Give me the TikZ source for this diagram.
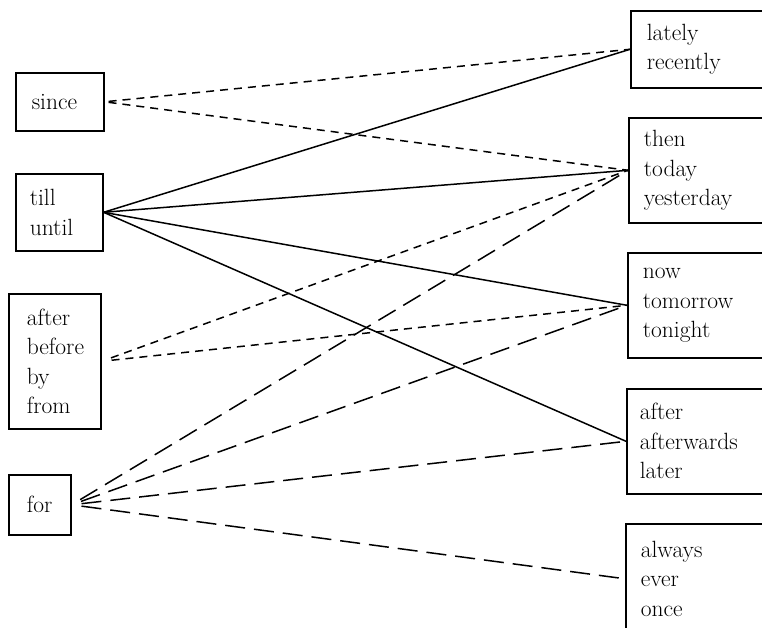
\documentclass[tikz,border=0pt]{standalone}
\begin{document}
\begin{tikzpicture}[x=1pt,y=-1pt,
  box/.style={draw, line width=1.6pt, anchor=north west, inner ysep=0pt, align=left,
    font=\fontsize{23.5}{29.5}\selectfont},
  conn/.style={line width=1.5pt},
  shortdash/.style={conn, dash pattern=on 8pt off 6pt},
  longdash/.style={conn, dash pattern=on 20pt off 9pt}]
\useasboundingbox (0,0) rectangle (762,628);
\clip (0,0) rectangle (762,628);
% left boxes
\node[box, inner xsep=16pt, text width=56pt, minimum height=58pt] (since) at (15,72) {since};
\node[box, inner xsep=14pt, text width=59pt, minimum height=77pt] (till) at (15,173) {till\\until};
\node[box, inner xsep=18pt, text width=56pt, minimum height=135pt] (prep) at (8,293) {after\\before\\by\\from};
\node[box, inner xsep=18pt, text width=26pt, minimum height=60pt] (for) at (8,474) {for};
% right boxes
\node[box, inner xsep=16pt, text width=148pt, minimum height=77pt] (lately) at (630,10) {lately\\recently};
\node[box, inner xsep=15pt, text width=150pt, minimum height=105pt] (then) at (628,117) {then\\today\\yesterday};
\node[box, inner xsep=15pt, text width=150pt, minimum height=105pt] (now) at (627,252) {now\\tomorrow\\tonight};
\node[box, inner xsep=13pt, text width=152pt, minimum height=105pt] (later) at (626,388) {after\\afterwards\\later};
\node[box, inner xsep=15pt, text width=150pt, minimum height=110pt] (always) at (625,523) {always\\ever\\once};
% connectors
\draw[shortdash, shorten <=4pt] (since.east) -- (lately.west);
\draw[shortdash, shorten <=4pt] (since.east) -- (then.west);
\draw[conn] (till.east) -- (lately.west);
\draw[conn] (till.east) -- (then.west);
\draw[conn] (till.east) -- (now.west);
\draw[conn] (till.east) -- (later.west);
\draw[shortdash, shorten <=10pt] (prep.east) -- (then.west);
\draw[shortdash, shorten <=10pt] (prep.east) -- (now.west);
\draw[longdash, shorten <=10pt] (for.east) -- (then.west);
\draw[longdash, shorten <=10pt] (for.east) -- (now.west);
\draw[longdash, shorten <=10pt] (for.east) -- (later.west);
\draw[longdash, shorten <=10pt] (for.east) -- (always.west);
\end{tikzpicture}
\end{document}
